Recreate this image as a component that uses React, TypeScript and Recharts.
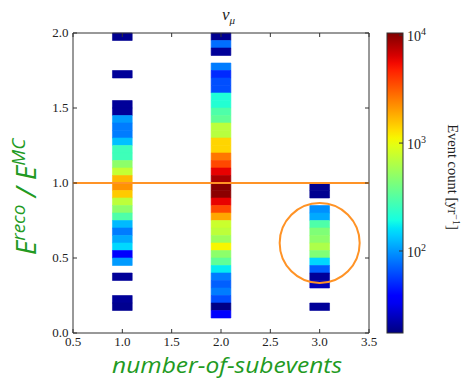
import React from "react";
import {
  ReferenceArea,
  ReferenceDot,
  ReferenceLine,
  Scatter,
  ScatterChart,
  XAxis,
  YAxis,
} from "recharts";

// x positions of the three columns (number of subevents)
const subevents = [1, 2, 3];
const xTicks = [0.5, 1.0, 1.5, 2.0, 2.5, 3.0, 3.5];
const yTicks = [0.0, 0.5, 1.0, 1.5, 2.0];
const yMax = 2.0;
const binHeight = 0.05;
const binWidth = 0.2;

// event counts per y-bin, from the top bin (1.95-2.00) down to the bottom (0.00-0.05)
const countsOne = [
  19, 0, 0, 0, 0, 20, 0, 0, 0, 20,
  20, 102, 84, 84, 130, 265, 265, 490, 750, 1680,
  2170, 1500, 712, 490, 300, 124, 84, 112, 150, 35,
  102, 0, 20, 0, 0, 20, 19, 0, 0, 0,
];
const countsTwo = [
  19, 77, 20, 0, 84, 50, 63, 63, 206, 215,
  300, 343, 700, 680, 1390, 1390, 2625, 3610, 5865, 8260,
  10000, 9800, 5865, 3610, 1910, 784, 712, 552, 1112, 490,
  343, 170, 84, 70, 84, 63, 18, 35, 0, 0,
];
const countsThree = [
  0, 0, 0, 0, 0, 0, 0, 0, 0, 0,
  0, 0, 0, 0, 0, 0, 0, 0, 0, 0,
  19, 19, 0, 95, 112, 300, 440, 490, 627, 440,
  150, 70, 20, 24, 0, 0, 20, 0, 0, 0,
];

// colour scale limits (log10 of counts)
const logMin = 1.24;
const logMax = 4.02;
const cbarTicks = [2, 3, 4];

const W = 465;
const H = 379;
const PLOT = { left: 73, right: 369, top: 33, bottom: 333 };
const GREEN = "#229a22";
const ORANGE = "#ff9326";
const FRAME = "#333";
const SERIF = "'Liberation Serif', 'DejaVu Serif', serif";
const SANS = "'Open Sans', 'DejaVu Sans', sans-serif";

type Pt = [number, number];
const R: Pt[] = [[0, 0], [0.35, 0], [0.66, 1], [0.89, 1], [1, 0.5]];
const G: Pt[] = [[0, 0], [0.125, 0], [0.375, 1], [0.64, 1], [0.91, 0], [1, 0]];
const B: Pt[] = [[0, 0.5], [0.11, 1], [0.34, 1], [0.65, 0], [1, 0]];

const interp = (pts: Pt[], t: number) => {
  for (let i = 1; i < pts.length; i++) {
    if (t <= pts[i][0]) {
      const [t0, v0] = pts[i - 1];
      const [t1, v1] = pts[i];
      return v0 + ((v1 - v0) * (t - t0)) / (t1 - t0);
    }
  }
  return pts[pts.length - 1][1];
};

const jet = (t: number) => {
  const c = Math.max(0, Math.min(1, t));
  const h = (v: number) => Math.round(v * 255).toString(16).padStart(2, "0");
  return `#${h(interp(R, c))}${h(interp(G, c))}${h(interp(B, c))}`;
};

const countColor = (n: number) => jet((Math.log10(n) - logMin) / (logMax - logMin));

const cells = [countsOne, countsTwo, countsThree].flatMap((col, c) =>
  col
    .map((n, k) => ({
      x: subevents[c],
      y0: yMax - binHeight * (k + 1),
      y1: yMax - binHeight * k,
      n,
    }))
    .filter((d) => d.n > 0)
);
const centers = cells.map((d) => ({ x: d.x, y: (d.y0 + d.y1) / 2 }));

const XTick = (props: any) => {
  const { x, payload } = props;
  return (
    <g>
      <line x1={x} x2={x} y1={PLOT.bottom} y2={PLOT.bottom - 4} stroke={FRAME} />
      <line x1={x} x2={x} y1={PLOT.top} y2={PLOT.top + 4} stroke={FRAME} />
      <text x={x} y={346} textAnchor="middle" fontFamily={SERIF} fontSize={13} fill="#222">
        {Number(payload.value).toFixed(1)}
      </text>
    </g>
  );
};

const YTick = (props: any) => {
  const { y, payload } = props;
  return (
    <g>
      <line x1={PLOT.left} x2={PLOT.left + 4} y1={y} y2={y} stroke={FRAME} />
      <line x1={PLOT.right} x2={PLOT.right - 4} y1={y} y2={y} stroke={FRAME} />
      <text x={68.5} y={y + 4} textAnchor="end" fontFamily={SERIF} fontSize={13} fill="#222">
        {Number(payload.value).toFixed(1)}
      </text>
    </g>
  );
};

const cbar = { left: 387, right: 403, top: 33, bottom: 333 };
const cbarY = (lg: number) =>
  cbar.bottom - ((lg - logMin) / (logMax - logMin)) * (cbar.bottom - cbar.top);

const App: React.FC = () => {
  const stops = Array.from({ length: 41 }, (_, i) => i / 40);
  return (
    <div style={{ position: "absolute", left: 0, top: 0, width: W, height: H, background: "#fff" }}>
      <ScatterChart width={W} height={H} margin={{ top: 33, right: 96, bottom: 16, left: 0 }}>
        <XAxis
          type="number"
          dataKey="x"
          domain={[0.5, 3.5]}
          ticks={xTicks}
          interval={0}
          height={30}
          axisLine={false}
          tickLine={false}
          tick={<XTick />}
          allowDataOverflow
        />
        <YAxis
          type="number"
          dataKey="y"
          domain={[0, 2]}
          ticks={yTicks}
          interval={0}
          width={73}
          axisLine={false}
          tickLine={false}
          tick={<YTick />}
          allowDataOverflow
        />
        <Scatter data={centers} shape={() => <g />} isAnimationActive={false} />
        {cells.map((d, i) => (
          <ReferenceArea
            key={i}
            x1={d.x - binWidth / 2}
            x2={d.x + binWidth / 2}
            y1={d.y0}
            y2={d.y1}
            fill={countColor(d.n)}
            fillOpacity={1}
            stroke={countColor(d.n)}
            strokeWidth={0.6}
          />
        ))}
        <ReferenceLine y={1} stroke={ORANGE} strokeWidth={2} />
        <ReferenceDot x={3} y={0.6} r={40} fill="none" stroke={ORANGE} strokeWidth={2} />
        <ReferenceArea x1={0.5} x2={3.5} y1={0} y2={2} fill="none" stroke={FRAME} strokeWidth={1} />
      </ScatterChart>

      <svg
        width={W}
        height={H}
        style={{ position: "absolute", left: 0, top: 0, pointerEvents: "none" }}
      >
        <defs>
          <linearGradient id="jet" x1="0" y1="1" x2="0" y2="0">
            {stops.map((t) => (
              <stop key={t} offset={t} stopColor={jet(t)} />
            ))}
          </linearGradient>
        </defs>

        {/* title */}
        <text x={222} y={20} fontFamily={SERIF} fontStyle="italic" fontSize={17} fill="#222">
          ν<tspan fontSize={11} dy={4}>μ</tspan>
        </text>

        {/* y label */}
        <text
          transform="translate(36,197) rotate(-90)"
          textAnchor="middle"
          fontFamily={SANS}
          fontStyle="italic"
          fontSize={28}
          fill={GREEN}
        >
          E<tspan fontSize={19} dy={-11}>reco</tspan>
          <tspan dy={11}> / E</tspan>
          <tspan fontSize={19} dy={-11}>MC</tspan>
        </text>

        {/* x label */}
        <text
          x={227}
          y={373}
          textAnchor="middle"
          fontFamily={SANS}
          fontStyle="italic"
          fontSize={21}
          fill={GREEN}
          textLength={230}
          lengthAdjust="spacingAndGlyphs"
        >
          number-of-subevents
        </text>

        {/* colour bar */}
        <rect
          x={cbar.left}
          y={cbar.top}
          width={cbar.right - cbar.left}
          height={cbar.bottom - cbar.top}
          fill="url(#jet)"
          stroke={FRAME}
        />
        {cbarTicks.map((lg) => (
          <g key={lg}>
            <line x1={cbar.right} x2={cbar.right - 4} y1={cbarY(lg)} y2={cbarY(lg)} stroke={FRAME} />
            <text x={407} y={cbarY(lg) + 6} fontFamily={SERIF} fontSize={14} fill="#222">
              10<tspan fontSize={10} dy={-6}>{lg}</tspan>
            </text>
          </g>
        ))}
        <text
          transform="translate(448,177) rotate(90)"
          textAnchor="middle"
          fontFamily={SERIF}
          fontSize={14.5}
          fill="#222"
        >
          Event count  [yr<tspan fontSize={10} dy={-5}>−1</tspan>
          <tspan dy={5}>]</tspan>
        </text>
      </svg>
    </div>
  );
};

export default App;
